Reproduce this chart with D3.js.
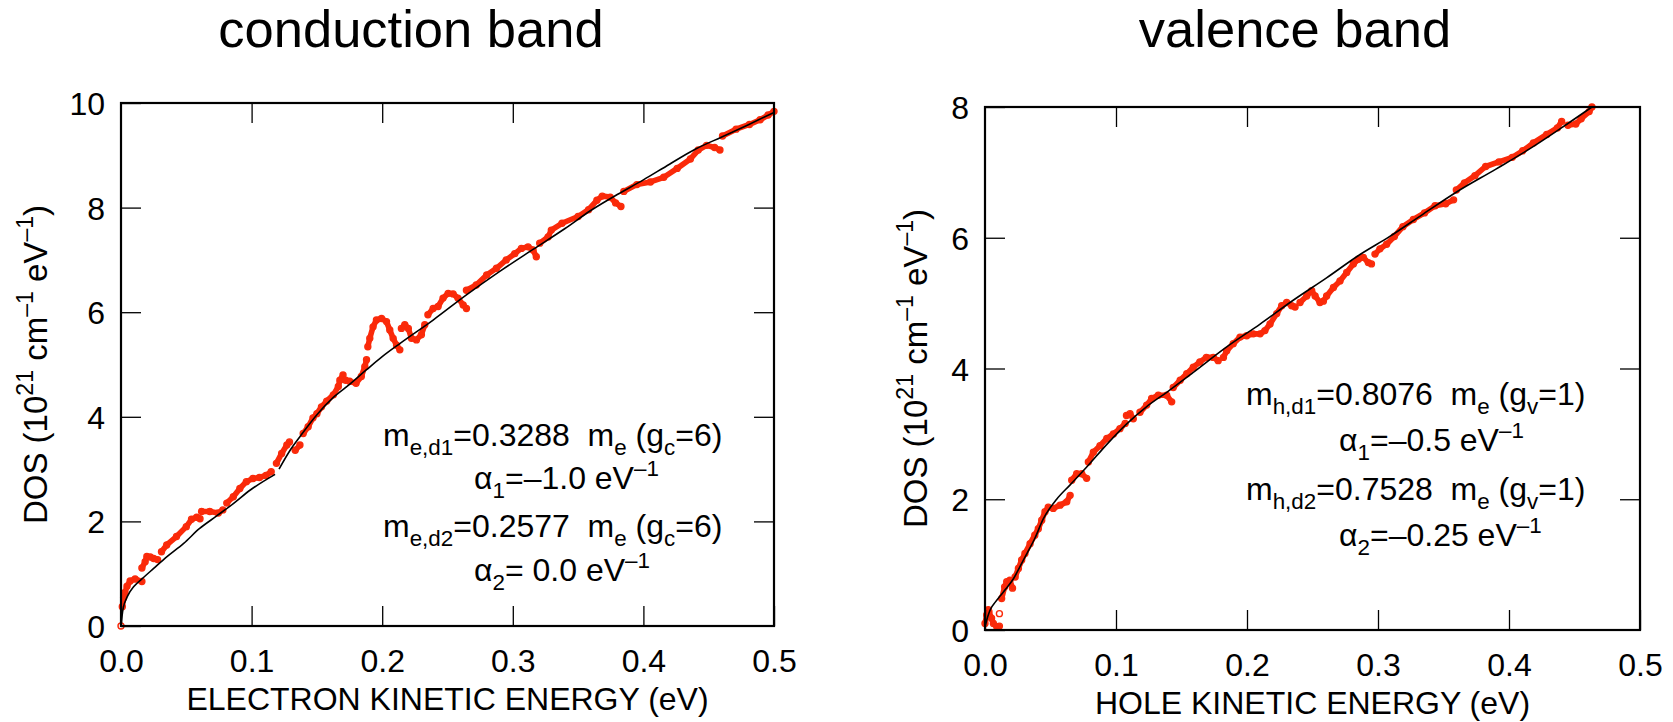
<!DOCTYPE html>
<html>
<head>
<meta charset="utf-8">
<script src="https://cdn.jsdelivr.net/npm/d3@7"></script>
<style>
  body { margin: 0; background: #fff; }
  text { font-family: "Liberation Sans", Arial, Helvetica, sans-serif; fill: #000; }
</style>
</head>
<body>
<svg id="chart" width="1673" height="722"></svg>
<script>
"use strict";

// ---- data (energy in eV, DOS in 1e21 cm^-1 eV^-1) ----

var xTicks = [0, 0.1, 0.2, 0.3, 0.4, 0.5]
var condYTicks = [0, 2, 4, 6, 8, 10]
var valYTicks = [0, 2, 4, 6, 8]

// conduction band, measured DOS, split where the trace breaks
var condData = [
    [[0, 0]],
    [[0.001, 0.37], [0.002, 0.54], [0.003, 0.64], [0.0046, 0.76], [0.007, 0.86], [0.0108, 0.9], [0.016, 0.85]],
    [[0.016, 1.11], [0.0185, 1.23], [0.0198, 1.33], [0.0224, 1.32], [0.025, 1.29], [0.028, 1.27]],
    [[0.031, 1.42], [0.035, 1.55], [0.0425, 1.71], [0.05, 1.9], [0.054, 2.04], [0.058, 2.08], [0.0605, 2.05]],
    [[0.0617, 2.19], [0.068, 2.19], [0.0745, 2.16], [0.078, 2.22]],
    [[0.081, 2.35], [0.086, 2.47], [0.091, 2.63], [0.096, 2.76], [0.101, 2.82], [0.106, 2.84], [0.111, 2.88], [0.115, 2.95]],
    [[0.119, 3.11], [0.123, 3.3], [0.127, 3.46], [0.129, 3.52]],
    [[0.1334, 3.36], [0.137, 3.46]],
    [[0.1395, 3.68], [0.1433, 3.81], [0.147, 3.98], [0.15, 4.06], [0.1535, 4.19], [0.1575, 4.3], [0.1626, 4.42], [0.1664, 4.58], [0.1676, 4.7], [0.17, 4.8]],
    [[0.172, 4.7], [0.175, 4.68], [0.18, 4.64], [0.184, 4.77], [0.1867, 4.96], [0.188, 5.09]],
    [[0.189, 5.34], [0.1905, 5.5], [0.193, 5.72], [0.1956, 5.85], [0.1995, 5.88], [0.2033, 5.82], [0.2058, 5.66], [0.2084, 5.5], [0.211, 5.37], [0.2135, 5.28]],
    [[0.2147, 5.69], [0.2173, 5.76], [0.22, 5.69], [0.2224, 5.5], [0.2262, 5.47], [0.23, 5.57], [0.2326, 5.76]],
    [[0.235, 5.95], [0.239, 6.07], [0.2428, 6.11], [0.2466, 6.27], [0.2505, 6.36], [0.2543, 6.35], [0.258, 6.27], [0.262, 6.14], [0.2645, 6.07]],
    [[0.2645, 6.42], [0.272, 6.52], [0.28, 6.71], [0.2875, 6.84], [0.295, 7.0], [0.3015, 7.12], [0.3066, 7.22], [0.3117, 7.25], [0.3155, 7.19], [0.318, 7.06]],
    [[0.3206, 7.32], [0.327, 7.44], [0.3295, 7.57], [0.3377, 7.7], [0.35, 7.83], [0.358, 7.96], [0.3644, 8.14], [0.3685, 8.22], [0.3746, 8.2], [0.3787, 8.09], [0.3828, 8.02]],
    [[0.385, 8.31], [0.395, 8.44], [0.4054, 8.49], [0.4156, 8.58], [0.4259, 8.75], [0.436, 8.93], [0.442, 9.1], [0.4484, 9.19], [0.4545, 9.15], [0.4586, 9.1]],
    [[0.4606, 9.37], [0.471, 9.5], [0.4812, 9.59], [0.4894, 9.68], [0.4955, 9.77], [0.5, 9.84]]
]

// conduction band fit (two pieces, second band sets in near 0.12 eV)
var condFit = [
    [[0, 0], [0.0015, 0.32], [0.005, 0.57], [0.01, 0.76], [0.016, 0.9], [0.025, 1.1], [0.035, 1.32], [0.048, 1.58],
     [0.06, 1.86], [0.073, 2.1], [0.086, 2.34], [0.099, 2.6], [0.118, 2.9]],
    [[0.121, 3.0], [0.13, 3.38], [0.137, 3.62], [0.15, 4.04], [0.163, 4.38], [0.175, 4.62], [0.188, 4.9], [0.2, 5.15],
     [0.2135, 5.4], [0.239, 5.85], [0.2645, 6.33], [0.29, 6.78], [0.3155, 7.2], [0.34, 7.6], [0.36, 7.95], [0.38, 8.25],
     [0.4, 8.53], [0.42, 8.83], [0.44, 9.12], [0.46, 9.35], [0.48, 9.58], [0.5, 9.82]]
]

// valence band, measured DOS
var valData = [
    [[0, 0.1], [0.0013, 0.23], [0.0025, 0.31]],
    [[0.003, 0.28], [0.005, 0.18], [0.0064, 0.1], [0.009, 0.05], [0.011, 0.06]],
    [[0.011, 0.25]],
    [[0.0127, 0.48], [0.015, 0.66], [0.0166, 0.74], [0.019, 0.76], [0.021, 0.64]],
    [[0.023, 0.81], [0.0255, 0.94], [0.028, 1.07], [0.0305, 1.17], [0.0344, 1.32], [0.038, 1.45], [0.0407, 1.55], [0.0433, 1.68],
     [0.0458, 1.81], [0.0483, 1.88], [0.0521, 1.86], [0.0573, 1.91], [0.0624, 1.96], [0.065, 2.06]],
    [[0.0662, 2.29], [0.07, 2.39], [0.0738, 2.39], [0.0776, 2.32]],
    [[0.0789, 2.57], [0.0827, 2.72], [0.0878, 2.82], [0.093, 2.93], [0.098, 3.0], [0.103, 3.08], [0.107, 3.16]],
    [[0.108, 3.28], [0.1107, 3.31], [0.1132, 3.23]],
    [[0.1183, 3.33], [0.1234, 3.44], [0.1272, 3.54], [0.1323, 3.59], [0.1387, 3.59], [0.1425, 3.49]],
    [[0.1437, 3.71], [0.149, 3.82], [0.154, 3.92], [0.159, 4.02], [0.164, 4.1], [0.169, 4.17], [0.1743, 4.17], [0.178, 4.12]],
    [[0.182, 4.17], [0.1845, 4.27], [0.1895, 4.38], [0.1947, 4.48], [0.1998, 4.5], [0.2048, 4.53], [0.21, 4.53], [0.2137, 4.58],
     [0.2176, 4.68], [0.2227, 4.84], [0.2265, 4.96], [0.2303, 5.01], [0.2341, 4.96], [0.2367, 4.94]],
    [[0.2405, 5.01], [0.2456, 5.11], [0.2494, 5.19], [0.252, 5.11], [0.2557, 5.01], [0.2583, 5.03], [0.2608, 5.11], [0.266, 5.24],
     [0.271, 5.34], [0.2761, 5.47], [0.2812, 5.6], [0.285, 5.67], [0.2888, 5.7], [0.2926, 5.62], [0.295, 5.6]],
    [[0.2977, 5.75], [0.3015, 5.83], [0.3066, 5.9], [0.3125, 6.02], [0.319, 6.17], [0.327, 6.28], [0.3355, 6.38], [0.3436, 6.49],
     [0.3517, 6.52], [0.3577, 6.58]],
    [[0.3598, 6.73], [0.366, 6.84], [0.374, 6.95], [0.3822, 7.09], [0.3923, 7.16], [0.4025, 7.23], [0.4105, 7.33], [0.4186, 7.45],
     [0.4288, 7.58], [0.4369, 7.68], [0.4402, 7.78]],
    [[0.445, 7.72], [0.451, 7.74], [0.4551, 7.82], [0.4612, 7.93], [0.4633, 8.0]]
]

var valFit = [
    [[0, 0.05], [0.002, 0.2], [0.004, 0.31], [0.008, 0.43], [0.0115, 0.52], [0.016, 0.63], [0.0216, 0.78], [0.027, 0.98],
     [0.032, 1.17], [0.038, 1.4], [0.0445, 1.7], [0.0547, 2.0], [0.065, 2.22], [0.078, 2.5], [0.093, 2.84], [0.108, 3.15],
     [0.123, 3.41], [0.139, 3.64], [0.159, 3.94], [0.1845, 4.33], [0.21, 4.68], [0.235, 5.04], [0.261, 5.39], [0.286, 5.74],
     [0.309, 6.02], [0.335, 6.37], [0.36, 6.7], [0.39, 7.05], [0.4166, 7.37], [0.44, 7.68], [0.4633, 8.0]]
]

// text pieces: s = "sub" / "sup" for shifted parts
var yTitle = [{t: "DOS (10"}, {t: "21", s: "sup"}, {t: " cm"}, {t: "\u20131", s: "sup"}, {t: " eV"}, {t: "\u20131", s: "sup"}, {t: ")"}]

var condNotes = [
    [{t: "m"}, {t: "e,d1", s: "sub"}, {t: "=0.3288  m"}, {t: "e", s: "sub"}, {t: " (g"}, {t: "c", s: "sub"}, {t: "=6)"}],
    [{t: "\u03b1"}, {t: "1", s: "sub"}, {t: "=\u20131.0 eV"}, {t: "\u20131", s: "sup"}],
    [{t: "m"}, {t: "e,d2", s: "sub"}, {t: "=0.2577  m"}, {t: "e", s: "sub"}, {t: " (g"}, {t: "c", s: "sub"}, {t: "=6)"}],
    [{t: "\u03b1"}, {t: "2", s: "sub"}, {t: "= 0.0 eV"}, {t: "\u20131", s: "sup"}]
]

var valNotes = [
    [{t: "m"}, {t: "h,d1", s: "sub"}, {t: "=0.8076  m"}, {t: "e", s: "sub"}, {t: " (g"}, {t: "v", s: "sub"}, {t: "=1)"}],
    [{t: "\u03b1"}, {t: "1", s: "sub"}, {t: "=\u20130.5 eV"}, {t: "\u20131", s: "sup"}],
    [{t: "m"}, {t: "h,d2", s: "sub"}, {t: "=0.7528  m"}, {t: "e", s: "sub"}, {t: " (g"}, {t: "v", s: "sub"}, {t: "=1)"}],
    [{t: "\u03b1"}, {t: "2", s: "sub"}, {t: "=\u20130.25 eV"}, {t: "\u20131", s: "sup"}]
]

var RED = "#fa2a0a"

function richText(sel, parts, fs) {
    var shift = 0
    parts.forEach(p => {
        var target = p.s === "sup" ? -0.42 * fs : p.s === "sub" ? 0.28 * fs : 0
        sel.append("tspan")
            .attr("dy", target - shift)
            .attr("font-size", p.s ? fs * 0.7 : fs)
            .text(p.t)
        shift = target
    })
    return sel
}

function drawPanel(svg, cfg) {
    var x = d3.scaleLinear().domain([0, 0.5]).range([cfg.left, cfg.right])
    var y = d3.scaleLinear().domain([0, cfg.yMax]).range([cfg.bottom, cfg.top])
    var g = svg.append("g")

    // panel title
    g.append("text")
        .attr("x", cfg.titleX).attr("y", 47)
        .attr("text-anchor", "middle")
        .attr("font-size", 52.5)
        .text(cfg.title)

    // measured points: chain of open circles
    var chain = d3.line().x(d => x(d[0])).y(d => y(d[1]))
    var dataG = g.append("g")
    cfg.data.forEach(seg => {
        if (seg.length > 1) {
            dataG.append("path")
                .attr("d", chain(seg))
                .attr("fill", "none")
                .attr("stroke", RED)
                .attr("stroke-width", 5.6)
                .attr("stroke-linecap", "round")
                .attr("stroke-linejoin", "round")
        }
        dataG.selectAll(null)
            .data(seg)
            .enter().append("circle")
            .attr("cx", d => x(d[0]))
            .attr("cy", d => y(d[1]))
            .attr("r", 3)
            .attr("fill", "none")
            .attr("stroke", RED)
            .attr("stroke-width", 1.4)
    })

    // fitted curve
    var fitLine = d3.line().x(d => x(d[0])).y(d => y(d[1])).curve(d3.curveMonotoneX)
    cfg.fit.forEach(seg => {
        g.append("path")
            .attr("d", fitLine(seg))
            .attr("fill", "none")
            .attr("stroke", "#000")
            .attr("stroke-width", 1.6)
    })

    // axes, ticks pointing inward on all four sides
    var fmtX = d3.format(".1f")
    var inner = xTicks.slice(1, -1)
    var innerY = cfg.yTicks.slice(1, -1)

    var xAxis = g.append("g")
        .attr("transform", "translate(0," + cfg.bottom + ")")
        .call(d3.axisBottom(x).tickValues(xTicks).tickSize(-20).tickSizeOuter(0).tickPadding(23).tickFormat(fmtX))
    var yAxis = g.append("g")
        .attr("transform", "translate(" + cfg.left + ",0)")
        .call(d3.axisLeft(y).tickValues(cfg.yTicks).tickSize(-20).tickSizeOuter(0).tickPadding(16))
    g.append("g")
        .attr("transform", "translate(0," + cfg.top + ")")
        .call(d3.axisTop(x).tickValues(inner).tickSize(-20).tickSizeOuter(0).tickFormat(""))
    g.append("g")
        .attr("transform", "translate(" + cfg.right + ",0)")
        .call(d3.axisRight(y).tickValues(innerY).tickSize(-20).tickSizeOuter(0).tickFormat(""))

    g.selectAll(".domain").remove()
    g.selectAll(".tick line").attr("stroke", "#000").attr("stroke-width", 1.3)
    g.selectAll(".tick text")
        .attr("font-size", 32)
        .attr("font-family", "'Liberation Sans', Arial, sans-serif")
    xAxis.selectAll(".tick text").attr("dy", "0.72em")
    yAxis.selectAll(".tick text").attr("dy", "0.36em")

    // frame
    g.append("rect")
        .attr("x", cfg.left).attr("y", cfg.top)
        .attr("width", cfg.right - cfg.left)
        .attr("height", cfg.bottom - cfg.top)
        .attr("fill", "none")
        .attr("stroke", "#000")
        .attr("stroke-width", 2.2)

    // axis titles
    g.append("text")
        .attr("x", (cfg.left + cfg.right) / 2)
        .attr("y", cfg.bottom + 84)
        .attr("text-anchor", "middle")
        .attr("font-size", 32)
        .text(cfg.xTitle)

    var yt = g.append("text")
        .attr("transform", "translate(" + cfg.yTitleX + "," + (cfg.top + cfg.bottom) / 2 + ")rotate(-90)")
        .attr("text-anchor", "middle")
        .attr("font-size", 33)
    richText(yt, yTitle, 33)

    // fit parameters
    cfg.notes.forEach((line, i) => {
        var t = g.append("text")
            .attr("x", i % 2 === 0 ? cfg.noteX[0] : cfg.noteX[1])
            .attr("y", cfg.noteY[i])
            .attr("font-size", 32)
            .style("white-space", "pre")
        richText(t, line, 32)
    })
}

var svg = d3.select("#chart")

drawPanel(svg, {
    title: "conduction band", titleX: 411,
    left: 121, right: 774, top: 103, bottom: 626,
    yMax: 10, yTicks: condYTicks,
    data: condData, fit: condFit,
    xTitle: "ELECTRON KINETIC ENERGY (eV)", yTitleX: 47,
    notes: condNotes, noteX: [383, 474], noteY: [446, 489, 537, 581]
})

drawPanel(svg, {
    title: "valence band", titleX: 1295,
    left: 985, right: 1640, top: 107, bottom: 630,
    yMax: 8, yTicks: valYTicks,
    data: valData, fit: valFit,
    xTitle: "HOLE KINETIC ENERGY (eV)", yTitleX: 927,
    notes: valNotes, noteX: [1246, 1339], noteY: [405, 451, 500, 546]
})
</script>
</body>
</html>
